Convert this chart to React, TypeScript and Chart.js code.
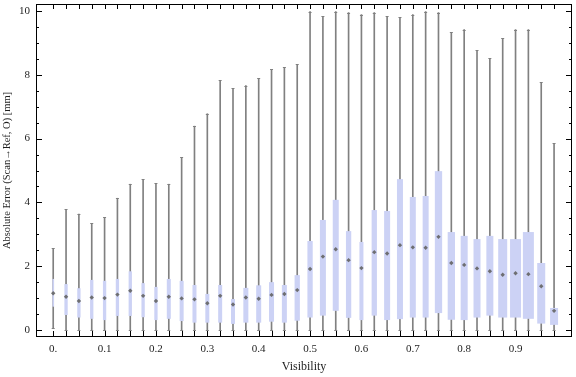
import React, { useEffect, useRef } from 'react';
import { Chart, registerables } from 'chart.js';

Chart.register(...registerables);

// ---- data ----
const visibility = [
  0, 0.025, 0.05, 0.075, 0.1, 0.125, 0.15, 0.175, 0.2, 0.225,
  0.25, 0.275, 0.3, 0.325, 0.35, 0.375, 0.4, 0.425, 0.45, 0.475,
  0.5, 0.525, 0.55, 0.575, 0.6, 0.625, 0.65, 0.675, 0.7, 0.725,
  0.75, 0.775, 0.8, 0.825, 0.85, 0.875, 0.9, 0.925, 0.95, 0.975,
];
const whiskerMin = [
  0.05, 0, 0, 0, 0, 0, 0, 0, 0, 0,
  0, 0, 0, 0, 0, 0, 0, 0, 0, 0,
  0, 0, 0, 0, 0, 0, 0, 0, 0, 0,
  0, 0, 0, 0, 0, 0, 0, 0, 0, 0,
];
const whiskerMax = [
  2.56, 3.78, 3.63, 3.34, 3.53, 4.13, 4.57, 4.72, 4.60, 4.57,
  5.41, 6.39, 6.78, 7.83, 7.58, 7.66, 7.89, 8.17, 8.23, 8.33,
  9.98, 9.83, 9.98, 9.95, 9.89, 9.95, 9.83, 9.80, 9.89, 9.98,
  9.95, 9.33, 9.42, 8.77, 8.52, 9.14, 9.42, 9.42, 7.76, 5.85,
];
const quartile3 = [
  1.60, 1.44, 1.31, 1.57, 1.54, 1.60, 1.84, 1.47, 1.35, 1.60,
  1.54, 1.41, 1.13, 1.41, 0.97, 1.32, 1.40, 1.50, 1.41, 1.72,
  2.79, 3.45, 4.08, 3.10, 2.76, 3.76, 3.73, 4.73, 4.17, 4.20,
  4.98, 3.07, 2.95, 2.85, 2.95, 2.85, 2.85, 3.07, 2.10, 0.69,
];
const quartile1 = [
  0.73, 0.47, 0.39, 0.35, 0.31, 0.44, 0.44, 0.40, 0.31, 0.35,
  0.28, 0.23, 0.23, 0.23, 0.19, 0.23, 0.23, 0.26, 0.23, 0.29,
  0.39, 0.45, 0.60, 0.38, 0.31, 0.45, 0.31, 0.34, 0.39, 0.39,
  0.53, 0.32, 0.31, 0.39, 0.45, 0.39, 0.39, 0.35, 0.20, 0.16,
];
const medians = [
  1.15, 1.04, 0.91, 1.02, 1.00, 1.11, 1.23, 1.07, 0.91, 1.04,
  0.99, 0.96, 0.84, 1.07, 0.80, 1.02, 0.98, 1.10, 1.13, 1.25,
  1.91, 2.30, 2.53, 2.19, 1.94, 2.44, 2.40, 2.66, 2.59, 2.58,
  2.92, 2.10, 2.04, 1.93, 1.84, 1.73, 1.78, 1.75, 1.37, 0.60,
];
const xTickLabels = ['0.', '0.1', '0.2', '0.3', '0.4', '0.5', '0.6', '0.7', '0.8', '0.9'];
const yTickLabels = ['0', '2', '4', '6', '8', '10'];

// ---- style (not data) ----
const boxWidthPx = [
  1.6, 3.3, 3.3, 3.3, 3.3, 3.3, 3.3, 3.3, 3.3, 4,
  4, 4, 4, 4, 4, 5, 5, 5, 5, 5.3,
  5.3, 6, 6, 5.3, 4, 5.3, 6, 6, 6, 6,
  7.3, 7.3, 7, 7, 7, 9, 11, 11, 8, 8,
];
const BOX_COLOR = 'rgb(204,210,245)';
const WHISKER_COLOR = 'rgb(128,128,128)';
const MEDIAN_COLOR = 'rgba(100,100,100,0.9)';
const TEXT_COLOR = '#1e1e1e';
const FONT = "'Liberation Serif', 'Times New Roman', serif";

const boxPlugin = {
  id: 'boxWhisker',
  afterDatasetDraw(chart: any, args: any) {
    if (args.index !== 1) return;
    const { ctx, chartArea } = chart;
    const x = chart.scales.x;
    const y = chart.scales.y;
    ctx.save();
    ctx.beginPath();
    ctx.rect(chartArea.left, chartArea.top, chartArea.right - chartArea.left, chartArea.bottom - chartArea.top);
    ctx.clip();
    for (let i = 0; i < visibility.length; i++) {
      const cx = x.getPixelForValue(visibility[i]);
      const w = boxWidthPx[i];
      const t = y.getPixelForValue(quartile3[i]);
      const b = y.getPixelForValue(quartile1[i]);
      ctx.fillStyle = BOX_COLOR;
      ctx.fillRect(cx - w / 2, t, w, b - t);
      ctx.strokeStyle = WHISKER_COLOR;
      ctx.lineWidth = 1;
      for (const v of [whiskerMin[i], whiskerMax[i]]) {
        const py = Math.round(y.getPixelForValue(v)) + 0.5;
        ctx.beginPath();
        ctx.moveTo(cx - 1.5, py);
        ctx.lineTo(cx + 1.5, py);
        ctx.stroke();
      }
    }
    ctx.restore();
  },
  afterDraw(chart: any) {
    const { ctx, chartArea } = chart;
    const { left, right, top, bottom } = chartArea;
    const x = chart.scales.x;
    const y = chart.scales.y;
    ctx.save();
    ctx.strokeStyle = '#000';
    ctx.lineWidth = 1;
    ctx.strokeRect(left + 0.5, top + 0.5, right - left - 1, bottom - top - 1);
    ctx.beginPath();
    for (const v of visibility) {
      const px = Math.round(x.getPixelForValue(v)) + 0.5;
      ctx.moveTo(px, bottom);
      ctx.lineTo(px, bottom - 6);
      ctx.moveTo(px, top);
      ctx.lineTo(px, top + 5);
    }
    for (let k = 0; k <= 20; k++) {
      const v = k * 0.5;
      const len = k % 4 === 0 ? 6 : 3;
      const py = Math.round(y.getPixelForValue(v)) + 0.5;
      ctx.moveTo(left, py);
      ctx.lineTo(left + len, py);
      ctx.moveTo(right, py);
      ctx.lineTo(right - len, py);
    }
    ctx.stroke();
    ctx.restore();
  },
};

export default function App() {
  const ref = useRef<HTMLCanvasElement | null>(null);

  useEffect(() => {
    if (!ref.current) return;
    const chart = new Chart(ref.current, {
      type: 'bar',
      data: {
        datasets: [
          {
            type: 'line',
            data: visibility.map((v, i) => ({ x: v, y: medians[i] })),
            showLine: false,
            pointStyle: 'rectRot',
            pointRadius: 2.2,
            pointBorderWidth: 0,
            pointBackgroundColor: MEDIAN_COLOR,
            borderColor: MEDIAN_COLOR,
          } as any,
          {
            type: 'bar',
            data: visibility.map((v, i) => ({ x: v, y: [whiskerMin[i], whiskerMax[i]] })),
            backgroundColor: WHISKER_COLOR,
            borderWidth: 0,
            barThickness: 1,
            grouped: false,
          } as any,
        ],
      },
      options: {
        animation: false,
        responsive: false,
        maintainAspectRatio: false,
        layout: { padding: { top: 4, right: 1, left: 0, bottom: 0 } },
        plugins: { legend: { display: false }, tooltip: { enabled: false } },
        scales: {
          x: {
            type: 'linear',
            offset: false,
            min: -0.0335,
            max: 1.0099,
            afterFit: (s: any) => { s.height = 40; s.paddingLeft = 0; s.paddingRight = 0; },
            grid: { display: false, drawTicks: false, offset: false },
            border: { display: false },
            ticks: {
              stepSize: 0.1,
              includeBounds: false,
              autoSkip: false,
              maxRotation: 0,
              padding: 6,
              color: TEXT_COLOR,
              font: { family: FONT, size: 11 },
              callback: (v: any) => {
                const idx = Math.round(Number(v) * 10);
                return idx >= 0 && idx < xTickLabels.length ? xTickLabels[idx] : '';
              },
            },
            title: {
              display: true,
              text: 'Visibility',
              color: TEXT_COLOR,
              font: { family: FONT, size: 12 },
              padding: { top: 0, bottom: 3 },
            },
          },
          y: {
            min: -0.22,
            max: 10.22,
            afterFit: (s: any) => { s.width = 36; s.paddingTop = 0; s.paddingBottom = 0; },
            grid: { display: false, drawTicks: false },
            border: { display: false },
            ticks: {
              stepSize: 2,
              includeBounds: false,
              padding: 6,
              color: TEXT_COLOR,
              font: { family: FONT, size: 11 },
              callback: (v: any) => {
                const idx = Math.round(Number(v) / 2);
                return idx >= 0 && idx < yTickLabels.length ? yTickLabels[idx] : '';
              },
            },
            title: {
              display: true,
              text: 'Absolute Error (Scan\u2192Ref, O) [mm]',
              color: TEXT_COLOR,
              font: { family: FONT, size: 10.5 },
              padding: { top: 1, bottom: 0 },
            },
          },
        },
      },
      plugins: [boxPlugin],
    } as any);
    return () => chart.destroy();
  }, []);

  return (
    <div style={{ position: 'absolute', left: 0, top: 0, width: 576, height: 377 }}>
      <canvas ref={ref} width={576} height={377} style={{ display: 'block' }} />
    </div>
  );
}
